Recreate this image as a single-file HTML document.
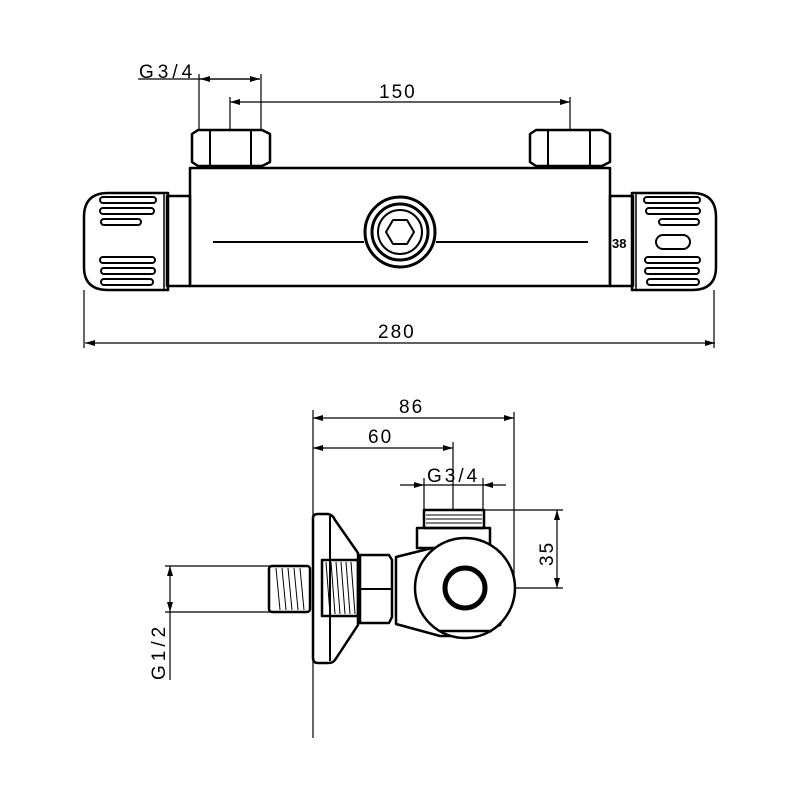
<!DOCTYPE html>
<html><head><style>html,body{margin:0;padding:0;background:#fff}svg{display:block}</style></head><body>
<svg width="800" height="800" viewBox="0 0 800 800" xmlns="http://www.w3.org/2000/svg" font-family="Liberation Sans, sans-serif">
<defs>
<marker id="a" viewBox="0 0 10 6" refX="10" refY="3" markerWidth="10" markerHeight="6" markerUnits="userSpaceOnUse" orient="auto-start-reverse"><path d="M0,0 L10,3 L0,6 z" fill="#000"/></marker>
</defs>
<g fill="none" stroke="#000">
<g stroke-width="1.2">
<line x1="138" y1="79" x2="260" y2="79"/>
<line x1="200" y1="79" x2="260" y2="79" marker-start="url(#a)" marker-end="url(#a)"/>
<line x1="199" y1="74" x2="199" y2="130"/>
<line x1="261" y1="74" x2="261" y2="130"/>
<line x1="230" y1="102" x2="570" y2="102" marker-start="url(#a)" marker-end="url(#a)"/>
<line x1="230" y1="97" x2="230" y2="130"/>
<line x1="570" y1="97" x2="570" y2="130"/>
<line x1="85" y1="343" x2="715" y2="343" marker-start="url(#a)" marker-end="url(#a)"/>
<line x1="84" y1="290" x2="84" y2="348"/>
<line x1="714" y1="290" x2="714" y2="348"/>
</g>
<g stroke-width="2.5" stroke-linejoin="round">
<path d="M192,134 L198,130 L262,130 L270,134 L270,162 L262,166 L198,166 L192,162 Z"/>
<line x1="210" y1="131" x2="210" y2="165" stroke-width="2"/><line x1="251" y1="131" x2="251" y2="165" stroke-width="2"/>
<path d="M530,134 L536,130 L602,130 L610,134 L610,162 L602,166 L536,166 L530,162 Z"/>
<line x1="548" y1="131" x2="548" y2="165" stroke-width="2"/><line x1="590" y1="131" x2="590" y2="165" stroke-width="2"/>
<rect x="190" y="168" width="420" height="118"/>
<rect x="167" y="196" width="23" height="90"/>
<rect x="610" y="196" width="23" height="90"/>
<path d="M168,193 L108,193 Q84,193 84,217 L84,267 Q84,290 108,290 L168,290 Z"/>
<line x1="164" y1="194" x2="164" y2="289" stroke-width="1.5"/>
<path d="M632,193 L692,193 Q716,193 716,217 L716,267 Q716,290 692,290 L632,290 Z"/>
<line x1="636" y1="194" x2="636" y2="289" stroke-width="1.5"/>
<line x1="213" y1="242" x2="364" y2="242" stroke-width="2"/>
<line x1="436" y1="242" x2="588" y2="242" stroke-width="2"/>
<circle cx="400" cy="232" r="35" stroke-width="3"/>
<circle cx="400" cy="232" r="28" stroke-width="3"/>
<circle cx="400" cy="232" r="22" stroke-width="2"/>
<path d="M386,232 L393,220 L407,220 L414,232 L407,244 L393,244 Z" stroke-width="2"/>
</g>
<g stroke-width="2">
<rect x="100" y="197" width="56" height="6" rx="3"/><rect x="100" y="208" width="54" height="6" rx="3"/><rect x="101" y="219" width="40" height="6" rx="3"/>
<rect x="100" y="257" width="55" height="6" rx="3"/><rect x="101" y="268" width="54" height="6" rx="3"/><rect x="101" y="279" width="52" height="6" rx="3"/>
<rect x="644" y="197" width="56" height="6" rx="3"/><rect x="646" y="208" width="54" height="6" rx="3"/><rect x="659" y="219" width="40" height="6" rx="3"/>
<rect x="645" y="257" width="55" height="6" rx="3"/><rect x="645" y="268" width="54" height="6" rx="3"/><rect x="647" y="279" width="52" height="6" rx="3"/>
<rect x="656" y="235" width="34" height="14" rx="7"/>
</g>
<g stroke-width="1.2">
<line x1="313" y1="410" x2="313" y2="738"/>
<line x1="313" y1="418" x2="514" y2="418" marker-start="url(#a)" marker-end="url(#a)"/>
<line x1="514" y1="412" x2="514" y2="590"/>
<line x1="313" y1="448" x2="453" y2="448" marker-start="url(#a)" marker-end="url(#a)"/>
<line x1="453" y1="442" x2="453" y2="510"/>
<line x1="400" y1="485" x2="424" y2="485" marker-end="url(#a)"/>
<line x1="506" y1="485" x2="483" y2="485" marker-end="url(#a)"/>
<line x1="424" y1="485" x2="483" y2="485"/>
<line x1="424" y1="478" x2="424" y2="511"/>
<line x1="483" y1="478" x2="483" y2="511"/>
<line x1="483" y1="510" x2="563" y2="510"/>
<line x1="515" y1="588" x2="563" y2="588"/>
<line x1="557" y1="510" x2="557" y2="588" marker-start="url(#a)" marker-end="url(#a)"/>
<line x1="165" y1="566" x2="270" y2="566"/>
<line x1="165" y1="612" x2="270" y2="612"/>
<line x1="170" y1="566" x2="170" y2="612" marker-start="url(#a)" marker-end="url(#a)"/>
<line x1="170" y1="612" x2="170" y2="680"/>
</g>
<g stroke-width="2.5" stroke-linejoin="round">
<path d="M313,518 Q313,514 318,514 L328,514 Q333,515 335,520 L358,553 L358,625 L335,660 Q333,663 328,663 L318,663 Q313,663 313,658 Z" fill="#fff"/>
<line x1="330" y1="516" x2="330" y2="661" stroke-width="2"/>
<rect x="269" y="566" width="41" height="46" rx="3"/>
<rect x="322" y="560" width="36" height="56"/>
<path d="M360,555 L389,555 L392,560 L392,617 L389,623 L360,623 Z"/>
<line x1="360" y1="589" x2="392" y2="589" stroke-width="2"/>
<path d="M396,557 L448,544 L475,540 L500,552 L514,588 L500,625 L465,636 L440,636 L396,624 Z" fill="#fff"/>
<rect x="417" y="528" width="73" height="20" fill="#fff"/>
<circle cx="465" cy="588" r="50" fill="#fff"/>
<circle cx="465" cy="588" r="20" stroke-width="5"/>
<path d="M440,631 L492,631"/>
<rect x="424" y="510" width="60" height="18"/>
</g>
<g stroke-width="1">
<line x1="426" y1="515" x2="482" y2="515"/><line x1="426" y1="519" x2="482" y2="519"/><line x1="426" y1="523" x2="482" y2="523"/>
<path d="M276,568 L280,610 M282,568 L286,610 M288,568 L292,610 M294,568 L298,610 M300,568 L304,610"/>
<path d="M326,562 L330,614 M331,562 L335,614 M336,562 L340,614 M341,562 L345,614 M346,562 L350,614 M351,562 L355,614"/>
</g>
</g>
<g font-size="19" fill="#000" letter-spacing="2">
<text x="139" y="78" letter-spacing="4">G3/4</text>
<text x="379" y="98">150</text>
<text x="378" y="338">280</text>
<text x="399" y="413">86</text>
<text x="368" y="443">60</text>
<text x="427" y="482" letter-spacing="3">G3/4</text>
<text transform="translate(553,566) rotate(-90)">35</text>
<text transform="translate(165,680) rotate(-90)" letter-spacing="4">G1/2</text>
</g>
<text x="612" y="248" font-size="13" font-weight="bold" fill="#000">38</text>
</svg>
</body></html>
